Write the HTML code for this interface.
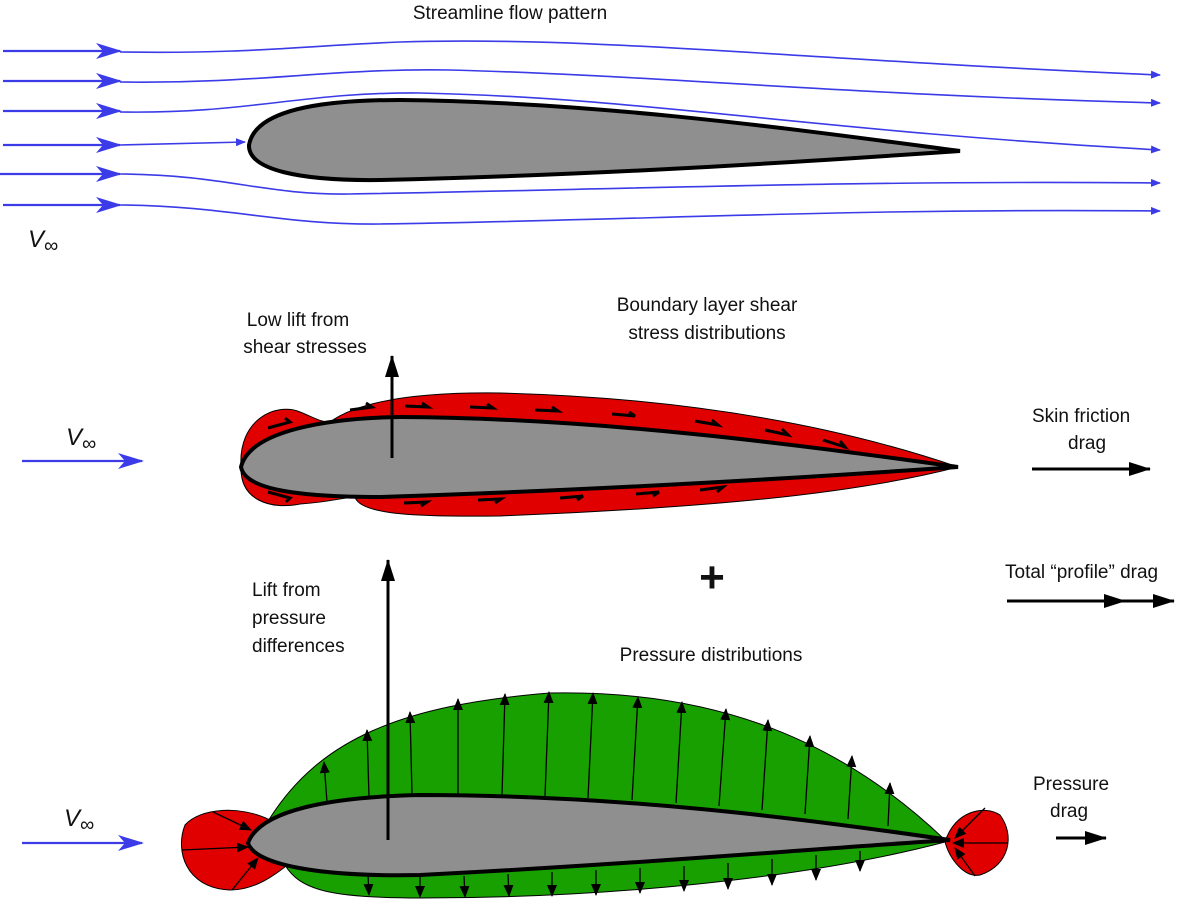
<!DOCTYPE html>
<html><head><meta charset="utf-8"><style>
html,body{margin:0;padding:0;background:#fff;}
svg{display:block;}
text{font-family:"Liberation Sans",Arial,sans-serif;font-size:19px;fill:#111;}
</style></head><body>
<svg width="1200" height="905" viewBox="0 0 1200 905" xmlns="http://www.w3.org/2000/svg">
<defs>
<marker id="ab" markerWidth="10" markerHeight="8" refX="9" refY="4" orient="auto" markerUnits="userSpaceOnUse"><path d="M0,0 L10,4 L0,8 Z" fill="#3b3be8"/></marker>
<marker id="abig" markerWidth="26" markerHeight="16" refX="24" refY="8" orient="auto" markerUnits="userSpaceOnUse"><path d="M0,0 L26,8 L0,16 L7,8 Z" fill="#3b3be8"/></marker>
<marker id="ak" markerWidth="22" markerHeight="14" refX="21" refY="7" orient="auto" markerUnits="userSpaceOnUse"><path d="M0,0 L22,7 L0,14 Z" fill="#000"/></marker>
<marker id="as" markerWidth="12" markerHeight="10" refX="11" refY="5" orient="auto" markerUnits="userSpaceOnUse"><path d="M0,0 L12,5 L0,10 Z" fill="#000"/></marker>
</defs>

<text x="510" y="19" text-anchor="middle">Streamline flow pattern</text>

<!-- streamlines -->
<g stroke="#3b3be8" stroke-width="2.2" fill="none">
<path d="M3,51 L120,51" marker-end="url(#abig)"/>
<path d="M3,81 L120,81" marker-end="url(#abig)"/>
<path d="M3,111 L120,111" marker-end="url(#abig)"/>
<path d="M3,145 L120,145" marker-end="url(#abig)"/>
<path d="M0,174 L120,174" marker-end="url(#abig)"/>
<path d="M3,205 L120,205" marker-end="url(#abig)"/>
</g>
<g stroke="#3b3be8" stroke-width="1.6" fill="none">
<path d="M120,52 C250,54 300,46 400,42 C600,36 800,60 1160,75" marker-end="url(#ab)"/>
<path d="M120,82 C260,84 330,68 450,70 C650,75 850,95 1160,103" marker-end="url(#ab)"/>
<path d="M120,112 C250,114 300,92 420,93 C650,98 800,130 1160,150" marker-end="url(#ab)"/>
<path d="M120,145 L245,142" marker-end="url(#ab)"/>
<path d="M120,174 C230,175 260,195 350,194 C600,190 850,180 1160,183" marker-end="url(#ab)"/>
<path d="M120,205 C230,206 280,225 380,224 C650,220 850,208 1160,211" marker-end="url(#ab)"/>
</g>
<path d="M249,145 C255,110 320,100 400,100 C600,102 800,130 960,151 C800,162 600,175 380,180 C300,181 248,170 249,145 Z" fill="#8f8f8f" stroke="#000" stroke-width="4"/>
<text x="28" y="247" font-style="italic" style="font-size:24px">V</text><text x="44" y="252" style="font-size:20px">∞</text>

<!-- middle -->
<text x="298" y="326" text-anchor="middle">Low lift from</text>
<text x="305" y="353" text-anchor="middle">shear stresses</text>
<text x="707" y="311" text-anchor="middle">Boundary layer shear</text>
<text x="707" y="339" text-anchor="middle">stress distributions</text>
<text x="1032" y="422">Skin friction</text>
<text x="1068" y="449">drag</text>

<path d="M241,467 C238,420 275,402 300,412 C315,418 320,422 330,422 C360,400 420,392 500,393 C700,398 850,430 958,467 Z" fill="#e00000" stroke="#000" stroke-width="1"/>
<path d="M241,467 C240,500 270,510 300,504 C330,502 340,498 355,497 C360,515 420,517 500,516 C700,508 850,495 958,467 Z" fill="#e00000" stroke="#000" stroke-width="1"/>
<path d="M241,467 C250,430 330,418 400,417 C600,418 800,445 958,467 C800,478 600,490 380,497 C300,497 245,490 241,467 Z" fill="#8f8f8f" stroke="#000" stroke-width="4"/>
<g stroke="#000" stroke-width="3" fill="none">
<path d="M268,428 L290,422 L285,418"/>
<path d="M350,410 L372,407 L366,403"/>
<path d="M405,406 L428,407 L422,403"/>
<path d="M470,407 L493,408 L487,404"/>
<path d="M535,410 L558,411 L552,407"/>
<path d="M612,414 L635,416 L629,412"/>
<path d="M695,421 L718,425 L712,420"/>
<path d="M765,430 L788,435 L782,429"/>
<path d="M823,440 L845,447 L840,441"/>
<path d="M268,492 L290,498 L286,502"/>
<path d="M404,503 L427,502 L421,506"/>
<path d="M478,500 L501,499 L495,503"/>
<path d="M560,498 L583,496 L577,500"/>
<path d="M636,494 L659,492 L653,496"/>
<path d="M700,490 L723,487 L717,492"/>
</g>
<line x1="392" y1="458" x2="392" y2="356" stroke="#000" stroke-width="3" marker-end="url(#ak)"/>
<line x1="22" y1="461" x2="142" y2="461" stroke="#3b3be8" stroke-width="2.2" marker-end="url(#abig)"/>
<text x="66" y="445" font-style="italic" style="font-size:24px">V</text><text x="82" y="450" style="font-size:20px">∞</text>
<line x1="1032" y1="469" x2="1150" y2="469" stroke="#000" stroke-width="3" marker-end="url(#ak)"/>

<text x="712" y="592" text-anchor="middle" style="font-size:44px;font-weight:bold">+</text>
<text x="1005" y="578">Total “profile” drag</text>
<line x1="1007" y1="601" x2="1125" y2="601" stroke="#000" stroke-width="3" marker-end="url(#ak)"/>
<line x1="1120" y1="601" x2="1174" y2="601" stroke="#000" stroke-width="3" marker-end="url(#ak)"/>

<!-- bottom -->
<text x="252" y="596">Lift from</text>
<text x="252" y="624">pressure</text>
<text x="252" y="652">differences</text>
<text x="711" y="661" text-anchor="middle">Pressure distributions</text>
<text x="1033" y="790">Pressure</text>
<text x="1050" y="817">drag</text>

<path d="M270,818 C320,740 400,705 550,693 C700,690 830,730 945,840 Z" fill="#18a000" stroke="#000" stroke-width="1"/>
<path d="M285,865 C300,890 330,898 420,898 C600,898 800,880 945,842 Z" fill="#18a000" stroke="#000" stroke-width="1"/>
<path d="M270,820 C240,805 200,808 185,825 C175,850 185,888 230,890 C255,890 275,875 290,863 Z" fill="#e00000" stroke="#000" stroke-width="1"/>
<path d="M945,842 C955,810 985,805 1000,815 C1015,835 1010,865 980,875 C965,878 950,860 945,842 Z" fill="#e00000" stroke="#000" stroke-width="1"/>
<path d="M248,843 C260,810 330,797 420,795 C620,795 800,818 950,840 C800,850 620,865 420,875 C320,877 255,865 248,843 Z" fill="#8f8f8f" stroke="#000" stroke-width="4"/>
<g stroke="#000" stroke-width="1.3">
<line x1="327" y1="802" x2="324" y2="762" marker-end="url(#as)"/>
<line x1="369" y1="797" x2="367" y2="730" marker-end="url(#as)"/>
<line x1="412" y1="795" x2="410" y2="712" marker-end="url(#as)"/>
<line x1="458" y1="795" x2="458" y2="699" marker-end="url(#as)"/>
<line x1="502" y1="795" x2="505" y2="694" marker-end="url(#as)"/>
<line x1="545" y1="796" x2="549" y2="692" marker-end="url(#as)"/>
<line x1="588" y1="798" x2="593" y2="693" marker-end="url(#as)"/>
<line x1="632" y1="800" x2="638" y2="697" marker-end="url(#as)"/>
<line x1="676" y1="803" x2="682" y2="702" marker-end="url(#as)"/>
<line x1="719" y1="806" x2="726" y2="709" marker-end="url(#as)"/>
<line x1="762" y1="810" x2="768" y2="720" marker-end="url(#as)"/>
<line x1="805" y1="814" x2="810" y2="736" marker-end="url(#as)"/>
<line x1="848" y1="819" x2="852" y2="756" marker-end="url(#as)"/>
<line x1="888" y1="826" x2="890" y2="783" marker-end="url(#as)"/>
<line x1="368" y1="874" x2="369" y2="895" marker-end="url(#as)"/>
<line x1="420" y1="876" x2="420" y2="897" marker-end="url(#as)"/>
<line x1="464" y1="876" x2="465" y2="897" marker-end="url(#as)"/>
<line x1="508" y1="874" x2="509" y2="896" marker-end="url(#as)"/>
<line x1="552" y1="872" x2="552" y2="896" marker-end="url(#as)"/>
<line x1="596" y1="870" x2="596" y2="895" marker-end="url(#as)"/>
<line x1="640" y1="868" x2="640" y2="893" marker-end="url(#as)"/>
<line x1="684" y1="866" x2="684" y2="891" marker-end="url(#as)"/>
<line x1="728" y1="863" x2="728" y2="889" marker-end="url(#as)"/>
<line x1="772" y1="859" x2="772" y2="885" marker-end="url(#as)"/>
<line x1="816" y1="855" x2="816" y2="880" marker-end="url(#as)"/>
<line x1="860" y1="851" x2="860" y2="871" marker-end="url(#as)"/>
<line x1="213" y1="812" x2="251" y2="830" marker-end="url(#as)"/>
<line x1="182" y1="850" x2="248" y2="847" marker-end="url(#as)"/>
<line x1="232" y1="890" x2="258" y2="858" marker-end="url(#as)"/>
<line x1="985" y1="808" x2="955" y2="838" marker-end="url(#as)"/>
<line x1="1008" y1="843" x2="953" y2="843" marker-end="url(#as)"/>
<line x1="975" y1="876" x2="955" y2="848" marker-end="url(#as)"/>
</g>
<line x1="388" y1="840" x2="388" y2="560" stroke="#000" stroke-width="3" marker-end="url(#ak)"/>
<line x1="22" y1="843" x2="142" y2="843" stroke="#3b3be8" stroke-width="2.2" marker-end="url(#abig)"/>
<text x="64" y="826" font-style="italic" style="font-size:24px">V</text><text x="80" y="831" style="font-size:20px">∞</text>
<line x1="1056" y1="838" x2="1106" y2="838" stroke="#000" stroke-width="3" marker-end="url(#ak)"/>
</svg>
</body></html>
